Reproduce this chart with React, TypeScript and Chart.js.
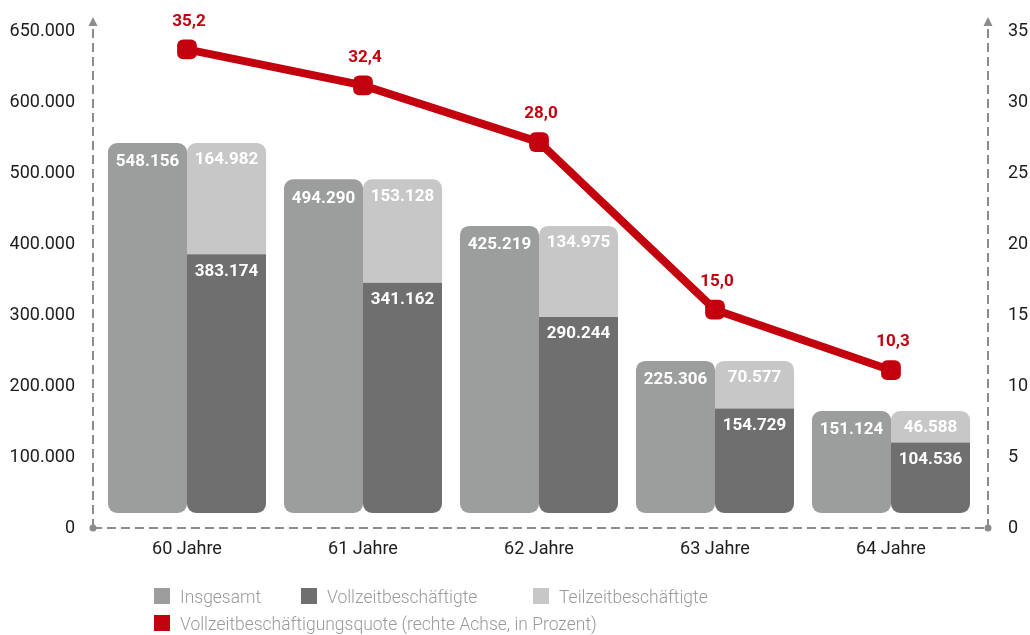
import React, { useEffect, useRef } from "react";
import { Chart, registerables } from "chart.js";

Chart.register(...registerables);

// ---- data ----
const categories = ["60 Jahre", "61 Jahre", "62 Jahre", "63 Jahre", "64 Jahre"];
const insgesamt = [548156, 494290, 425219, 225306, 151124];
const vollzeit = [383174, 341162, 290244, 154729, 104536];
const teilzeit = [164982, 153128, 134975, 70577, 46588];
const quote = [35.2, 32.4, 28.0, 15.0, 10.3];

const leftTickValues = [0, 100000, 200000, 300000, 400000, 500000, 600000, 700000];
const leftTickLabels = ["0", "100.000", "200.000", "300.000", "400.000", "500.000", "600.000", "650.000"];
const rightTickValues = [0, 5, 10, 15, 20, 25, 30, 35];
const rightTickLabels = ["0", "5", "10", "15", "20", "25", "30", "35"];

const seriesLabels = [
  "Insgesamt",
  "Vollzeitbeschäftigte",
  "Teilzeitbeschäftigte",
  "Vollzeitbeschäftigungsquote (rechte Achse, in Prozent)",
];

// ---- styles ----
const C_INS = "#9c9d9d";
const C_VOLL = "#6e6f6e";
const C_TEIL = "#c6c7c6";
const C_RED = "#c3000e";
const C_AXIS = "#8c8c8c";
const C_TEXT = "#1c1c1c";
const FONT = "Roboto, 'Noto Sans', sans-serif";

const fmtInt = (v: number) => String(v).replace(/\B(?=(\d{3})+(?!\d))/g, ".");
const fmtDec = (v: number) => v.toFixed(1).replace(".", ",");

const axisDecor = {
  id: "axisDecor",
  beforeDatasetsDraw(chart: any) {
    const { ctx, chartArea } = chart;
    const lx = chartArea.left - 6;
    const rx = chartArea.right + 9;
    const by = chartArea.bottom;
    const ty = chartArea.top - 2;
    ctx.save();
    ctx.strokeStyle = C_AXIS;
    ctx.fillStyle = C_AXIS;
    ctx.lineWidth = 2;
    ctx.setLineDash([9, 5]);
    ctx.beginPath();
    ctx.moveTo(lx, by);
    ctx.lineTo(lx, ty);
    ctx.moveTo(rx, by);
    ctx.lineTo(rx, ty);
    ctx.moveTo(lx, by);
    ctx.lineTo(rx, by);
    ctx.stroke();
    ctx.setLineDash([]);
    [lx, rx].forEach((x) => {
      ctx.beginPath();
      ctx.moveTo(x, ty - 12);
      ctx.lineTo(x - 4.5, ty - 3);
      ctx.lineTo(x + 4.5, ty - 3);
      ctx.closePath();
      ctx.fill();
      ctx.beginPath();
      ctx.arc(x, by, 3.5, 0, Math.PI * 2);
      ctx.fill();
    });
    ctx.restore();
  },
};

const valueLabels = {
  id: "valueLabels",
  afterDatasetsDraw(chart: any) {
    const { ctx } = chart;
    ctx.save();
    ctx.textAlign = "center";
    ctx.textBaseline = "middle";
    chart.data.datasets.forEach((ds: any, di: number) => {
      const meta = chart.getDatasetMeta(di);
      meta.data.forEach((el: any, i: number) => {
        const v = ds.data[i] as number;
        if (ds.type === "bar") {
          ctx.fillStyle = "#ffffff";
          ctx.font = `bold 17px ${FONT}`;
          const off = ds.stack === "a" ? 19 : 17;
          ctx.fillText(fmtInt(v), el.x, el.y + off);
        } else {
          ctx.fillStyle = C_RED;
          ctx.font = `bold 17px ${FONT}`;
          ctx.fillText(fmtDec(v), el.x + 2, el.y - 28);
        }
      });
    });
    ctx.restore();
  },
};

const tickFont = { family: FONT, size: 18 };

const noPad = (s: any) => {
  s.paddingTop = 0;
  s.paddingBottom = 0;
  s.paddingLeft = 0;
  s.paddingRight = 0;
};

export default function App() {
  const canvasRef = useRef<HTMLCanvasElement | null>(null);

  useEffect(() => {
    if (!canvasRef.current) return;
    const chart = new Chart(canvasRef.current, {
      type: "bar",
      data: {
        labels: categories,
        datasets: [
          {
            type: "line",
            label: seriesLabels[3],
            data: quote,
            yAxisID: "yl",
            borderColor: C_RED,
            backgroundColor: C_RED,
            borderWidth: 8,
            pointStyle: "rectRounded",
            pointRadius: 11.5,
            pointBackgroundColor: C_RED,
            pointBorderWidth: 0,
            tension: 0,
            order: 0,
          } as any,
          {
            type: "bar",
            label: seriesLabels[0],
            data: insgesamt,
            yAxisID: "yb",
            stack: "a",
            backgroundColor: C_INS,
            borderRadius: { topLeft: 9, topRight: 9, bottomLeft: 9, bottomRight: 9 },
            borderSkipped: false,
            order: 1,
          } as any,
          {
            type: "bar",
            label: seriesLabels[1],
            data: vollzeit,
            yAxisID: "yb",
            stack: "b",
            backgroundColor: C_VOLL,
            borderRadius: { topLeft: 0, topRight: 0, bottomLeft: 9, bottomRight: 9 },
            borderSkipped: false,
            order: 1,
          } as any,
          {
            type: "bar",
            label: seriesLabels[2],
            data: teilzeit,
            yAxisID: "yb",
            stack: "b",
            backgroundColor: C_TEIL,
            borderRadius: { topLeft: 9, topRight: 9, bottomLeft: 0, bottomRight: 0 },
            borderSkipped: false,
            order: 1,
          } as any,
        ],
      },
      options: {
        animation: false,
        responsive: true,
        maintainAspectRatio: false,
        layout: { padding: { top: 31, left: 0, right: 0, bottom: 0 } },
        datasets: { bar: { categoryPercentage: 0.898, barPercentage: 1.0 } } as any,
        plugins: { legend: { display: false }, tooltip: { enabled: false } },
        scales: {
          x: {
            type: "category",
            stacked: true,
            offset: true,
            grid: { display: false, drawTicks: false },
            border: { display: false },
            ticks: { color: C_TEXT, font: tickFont, padding: 11, maxRotation: 0 },
            afterFit: (s: any) => {
              s.height = 635 - 528;
              noPad(s);
            },
          },
          y: {
            position: "left",
            min: 0,
            max: 700000,
            grid: { display: false, drawTicks: false },
            border: { display: false },
            afterBuildTicks: (s: any) => {
              s.ticks = leftTickValues.map((v) => ({ value: v }));
            },
            ticks: {
              color: C_TEXT,
              font: tickFont,
              padding: 24,
              autoSkip: false,
              callback: (_v: any, i: number) => leftTickLabels[i],
            },
            afterFit: (s: any) => {
              s.width = 99;
              noPad(s);
            },
          },
          y2: {
            position: "right",
            min: 0,
            max: 35,
            grid: { display: false, drawTicks: false },
            border: { display: false },
            afterBuildTicks: (s: any) => {
              s.ticks = rightTickValues.map((v) => ({ value: v }));
            },
            ticks: {
              color: C_TEXT,
              font: tickFont,
              padding: 29,
              autoSkip: false,
              callback: (_v: any, i: number) => rightTickLabels[i],
            },
            afterFit: (s: any) => {
              s.width = 51;
              noPad(s);
            },
          },
          yb: { display: false, stacked: true, min: -22222, max: 714074 },
          yl: { display: false, min: -1.94, max: 36.62 },
        },
      } as any,
      plugins: [axisDecor, valueLabels],
    });
    return () => chart.destroy();
  }, []);

  const legendItems = [
    { label: seriesLabels[0], color: C_INS, left: 154, top: 588 },
    { label: seriesLabels[1], color: C_VOLL, left: 301, top: 588 },
    { label: seriesLabels[2], color: C_TEIL, left: 533, top: 588 },
    { label: seriesLabels[3], color: C_RED, left: 154, top: 615 },
  ];

  return (
    <div style={{ position: "fixed", left: 0, top: 0, width: 1030, height: 635, background: "#fff" }}>
      <canvas ref={canvasRef} />
      {legendItems.map((it) => (
        <div
          key={it.label}
          style={{
            position: "absolute",
            left: it.left,
            top: it.top,
            height: 16,
            display: "flex",
            alignItems: "center",
            whiteSpace: "nowrap",
            fontFamily: FONT,
            fontWeight: 300,
            fontSize: 19,
            color: "#9a9a9a",
          }}
        >
          <span style={{ display: "inline-block", width: 16, height: 16, background: it.color, marginRight: 10, flex: "none" }} />
          <span style={{ display: "inline-block", transform: "scaleX(0.92)", transformOrigin: "left center" }}>{it.label}</span>
        </div>
      ))}
    </div>
  );
}
